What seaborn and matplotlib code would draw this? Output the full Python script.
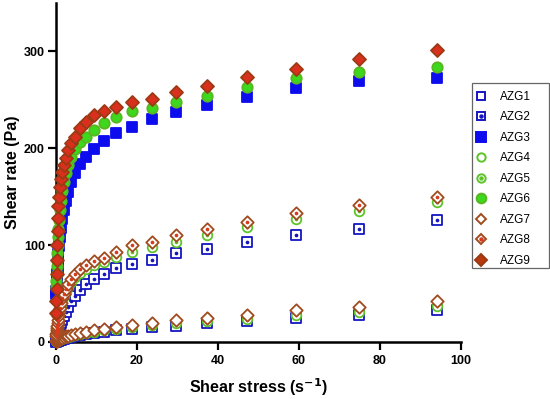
import matplotlib
matplotlib.use("Agg")
import matplotlib.pyplot as plt
import seaborn as sns
import pandas as pd
from matplotlib.legend_handler import HandlerTuple
from matplotlib.patches import Rectangle

# ---------------- data ----------------
shear_x = [0.094, 0.118, 0.149, 0.187, 0.236, 0.297, 0.374, 0.471, 0.593, 0.747,
           0.940, 1.18, 1.49, 1.87, 2.36, 2.97, 3.74, 4.71, 5.93, 7.47,
           9.40, 11.8, 14.9, 18.7, 23.6, 29.7, 37.4, 47.1, 59.3, 74.7, 94.0]

azg1 = [0.5, 0.6, 0.7, 0.8, 0.9, 1.0, 1.2, 1.4, 1.6, 1.9,
        2.2, 2.5, 2.9, 3.4, 3.9, 4.5, 5.2, 6.0, 7.0, 8.0,
        9.0, 10.5, 12.0, 13.8, 15.5, 17.0, 19.7, 21.7, 25.0, 27.6, 32.8]
azg4 = [0.7, 0.8, 0.9, 1.0, 1.2, 1.4, 1.6, 1.8, 2.1, 2.4,
        2.8, 3.2, 3.7, 4.2, 4.8, 5.5, 6.2, 7.0, 8.0, 9.0,
        10.5, 12.0, 13.5, 15.5, 17.5, 19.5, 22.0, 24.0, 28.0, 31.0, 37.0]
azg7 = [0.9, 1.0, 1.2, 1.4, 1.6, 1.8, 2.1, 2.4, 2.7, 3.1,
        3.5, 4.0, 4.5, 5.1, 5.8, 6.5, 7.5, 8.5, 9.5, 10.5,
        12.0, 13.5, 15.5, 17.3, 19.7, 22.4, 25.0, 27.6, 33.5, 36.0, 42.0]

azg2 = [3.0, 3.5, 4.0, 5.0, 6.0, 7.0, 8.5, 10.0, 12.0, 14.0,
        17.0, 20.0, 23.0, 27.0, 31.0, 36.0, 42.0, 48.0, 54.0, 60.0,
        65.5, 70.5, 76.0, 81.0, 85.0, 91.4, 96.5, 103.4, 110.0, 117.0, 126.0]
azg5 = [5.0, 7.0, 9.0, 11.0, 13.0, 15.0, 18.0, 21.0, 25.0, 29.0,
        33.0, 37.0, 42.0, 47.0, 52.0, 57.0, 62.0, 67.0, 71.0, 75.0,
        79.0, 83.0, 88.0, 93.0, 98.0, 103.4, 110.0, 119.0, 126.5, 135.0, 144.8]
azg8 = [6.0, 8.0, 10.0, 12.0, 14.0, 17.0, 20.0, 23.0, 27.0, 31.0,
        35.0, 40.0, 45.0, 50.0, 55.0, 60.0, 65.0, 70.0, 75.0, 79.0,
        83.5, 87.0, 93.0, 100.0, 103.4, 110.0, 117.0, 124.0, 133.0, 141.0, 150.0]

azg3 = [50.0, 53.0, 56.0, 60.0, 64.0, 70.0, 76.0, 83.0, 91.0, 99.0,
        108.0, 118.0, 127.0, 136.0, 146.0, 155.0, 165.0, 175.0, 184.0, 191.0,
        199.0, 208.0, 215.5, 222.0, 230.0, 237.0, 245.0, 253.0, 262.0, 269.0, 272.5]
azg6 = [57.0, 63.0, 70.0, 78.0, 85.0, 92.0, 100.0, 108.0, 117.0, 126.0,
        136.0, 146.0, 156.0, 165.0, 174.0, 183.0, 191.0, 199.0, 206.0, 212.0,
        219.0, 226.0, 232.0, 238.6, 242.0, 248.0, 254.0, 263.0, 273.0, 279.0, 284.0]
azg9 = [30.0, 42.0, 55.0, 70.0, 85.0, 100.0, 115.0, 128.0, 140.0, 150.0,
        160.0, 168.0, 176.0, 183.0, 190.0, 198.0, 205.0, 212.0, 220.7, 227.5,
        234.0, 238.6, 243.0, 248.0, 251.0, 258.0, 264.5, 274.0, 282.0, 292.0, 301.0]

series_names = ["AZG1", "AZG2", "AZG3", "AZG4", "AZG5", "AZG6", "AZG7", "AZG8", "AZG9"]
series_vals = [azg1, azg2, azg3, azg4, azg5, azg6, azg7, azg8, azg9]

x_ticks = [0, 20, 40, 60, 80, 100]
y_ticks = [0, 100, 200, 300]

# ---------------- style ----------------
BLUE = "#1515C0"
BLUE_F = "#0C0CEE"
GREEN = "#5CC428"
GREEN_F = "#3BD81E"
BROWN = "#A04A1E"
RED_F = "#D8301C"

styles = {
    "AZG1": dict(marker="s", s=46, fc="white", ec=BLUE, dot=None, lms=6.0),
    "AZG2": dict(marker="s", s=46, fc="white", ec=BLUE, dot=BLUE, lms=6.0),
    "AZG3": dict(marker="s", s=52, fc=BLUE_F, ec=BLUE_F, dot=None, lms=7.0),
    "AZG4": dict(marker="o", s=48, fc="white", ec=GREEN, dot=None, lms=6.0),
    "AZG5": dict(marker="o", s=48, fc="white", ec=GREEN, dot=GREEN, lms=6.0),
    "AZG6": dict(marker="o", s=56, fc=GREEN_F, ec="#5AB520", dot=None, lms=7.0),
    "AZG7": dict(marker="D", s=40, fc="white", ec=BROWN, dot=None, lms=5.2),
    "AZG8": dict(marker="D", s=40, fc="white", ec=BROWN, dot="#D83A1A", lms=5.2),
    "AZG9": dict(marker="D", s=44, fc="#B8380F", ec="#9A3A14", dot=None, lms=6.0),
}

sns.set_theme(style="ticks")
plt.rcParams["font.family"] = ["Liberation Sans", "DejaVu Sans"]
for k in ["text.color", "axes.labelcolor", "xtick.color", "ytick.color", "axes.edgecolor"]:
    plt.rcParams[k] = "black"

fig = plt.figure(figsize=(5.5, 3.99), dpi=100)
ax = fig.add_axes([56 / 550, 1 - 342 / 399, (461 - 56) / 550, (342 - 3) / 399])

handles = []
for name, vals in zip(series_names, series_vals):
    st = styles[name]
    df = pd.DataFrame({"x": shear_x, "y": vals})
    face = RED_F if name == "AZG9" else st["fc"]
    sns.scatterplot(data=df, x="x", y="y", ax=ax, marker=st["marker"], s=st["s"],
                    color=face, edgecolor=st["ec"], linewidth=1.3,
                    clip_on=False, zorder=3, legend=False)
    h_main = plt.Line2D([], [], linestyle="none", marker=st["marker"],
                        markersize=st["lms"], markerfacecolor=st["fc"],
                        markeredgecolor=st["ec"], markeredgewidth=1.4)
    if st["dot"] is not None:
        sns.scatterplot(data=df, x="x", y="y", ax=ax, marker="o", s=7,
                        color=st["dot"], edgecolor=st["dot"], linewidth=0,
                        clip_on=False, zorder=3, legend=False)
        h_dot = plt.Line2D([], [], linestyle="none", marker="o", markersize=2.2,
                           markerfacecolor=st["dot"], markeredgecolor=st["dot"])
        handles.append((h_main, h_dot))
    else:
        handles.append(h_main)

ax.set_xlim(0, 100)
ax.set_ylim(0, 350)
ax.set_xticks(x_ticks)
ax.set_yticks(y_ticks)
ax.set_xticklabels([str(t) for t in x_ticks], fontweight="bold", fontsize=9)
ax.set_yticklabels([str(t) for t in y_ticks], fontweight="bold", fontsize=9)
ax.tick_params(axis="both", length=6, width=1.6, color="black", pad=2)
ax.tick_params(axis="x", pad=3)

for sp in ["top", "right"]:
    ax.spines[sp].set_visible(False)
for sp in ["left", "bottom"]:
    ax.spines[sp].set_linewidth(1.8)
    ax.spines[sp].set_color("black")

ax.set_xlabel("Shear stress (s$^{\\mathbf{-1}}$)", fontsize=11.5, fontweight="bold", labelpad=7)
ax.set_ylabel("Shear rate (Pa)", fontsize=11.5, fontweight="bold", labelpad=3)

# legend frame (drawn separately so the right margin matches)
fig.patches.append(Rectangle((472 / 550, 1 - 268 / 399), (549 - 472) / 550, (268 - 83) / 399,
                             transform=fig.transFigure, facecolor="white",
                             edgecolor="#666666", linewidth=0.9, zorder=5))

leg = fig.legend(handles, series_names, loc="upper left",
                 bbox_to_anchor=(470 / 550, 1 - 86 / 399), bbox_transform=fig.transFigure,
                 borderaxespad=0, frameon=False, fontsize=8.5,
                 labelspacing=0.72, handlelength=1.0, handletextpad=1.1,
                 borderpad=0.4, handler_map={tuple: HandlerTuple(ndivide=1)})
leg.set_zorder(6)

fig.savefig("out.png", dpi=100, facecolor="white")
